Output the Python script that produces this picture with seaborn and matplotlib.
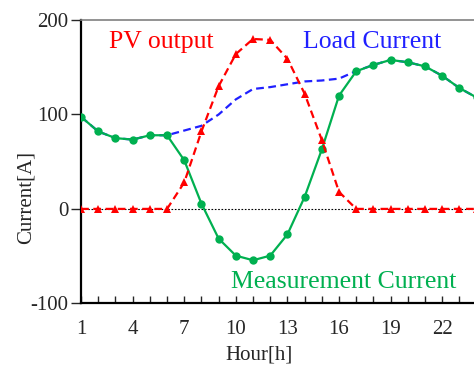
import numpy as np
import pandas as pd
import matplotlib
matplotlib.use("Agg")
import matplotlib.pyplot as plt
import seaborn as sns

# values
hours = list(range(1, 25))
load_current = [97.5, 82, 75, 73.4, 78, 78, 83, 88, 100, 116, 127, 129,
                132, 135, 136, 138, 146, 152.5, 157.8, 155.3, 151, 141, 128, 118]
pv_output = [0, 0, 0, 0, 0, 0, 28, 82, 130, 164, 180, 179,
             159, 122, 73, 18, 0, 0, 0, 0, 0, 0, 0, 0]
measurement_current = [97.5, 82, 75, 73.4, 78, 78, 51.5, 5.6, -31.5, -49.5, -54.4, -49.5,
                       -27, 12.7, 63, 120, 145.8, 152.5, 157.8, 155.3, 151, 141, 128, 118]
x_tick_labels = ["1", "4", "7", "10", "13", "16", "19", "22"]

df = pd.DataFrame({"Hour": hours, "Load": load_current,
                   "PV": pv_output, "Meas": measurement_current})

sns.set_style("ticks")
plt.rcParams['font.family'] = ['Liberation Serif', 'DejaVu Serif']
plt.rcParams['axes.unicode_minus'] = False

green = "#00B050"
red = "#FF0000"
blue = "#2020FF"

fig = plt.figure(figsize=(4.74, 3.65), dpi=100)
ax = fig.add_axes([0.171, 0.169, 0.8345, 0.776])

# dotted zero line
ax.axhline(0, color="black", lw=0.8, ls=(0, (1.5, 1.5)), zorder=1)

sns.lineplot(data=df, x="Hour", y="Load", ax=ax, color=blue, lw=1.6,
             linestyle=(0, (3.5, 2)), zorder=2)
sns.lineplot(data=df, x="Hour", y="Meas", ax=ax, color=green, lw=1.6,
             marker="o", markersize=6, markeredgewidth=0, zorder=3)
sns.lineplot(data=df, x="Hour", y="PV", ax=ax, color=red, lw=1.6,
             linestyle=(0, (3.5, 2)), marker="^", markersize=5.5,
             markeredgewidth=0, zorder=4)

ax.set_xlim(1, 24)
ax.set_ylim(-100, 200)
ax.set_yticks([-100, 0, 100, 200])
ax.set_xticks(range(1, 23, 3))
ax.set_xticklabels(x_tick_labels)
ax.set_xticks(range(1, 25), minor=True)

ax.tick_params(axis="x", which="both", direction="in", length=5, width=1,
               labelsize=15, pad=12)
ax.tick_params(axis="y", direction="out", length=7, width=1, labelsize=15, pad=2)

for s in ["left", "bottom"]:
    ax.spines[s].set_color("black")
    ax.spines[s].set_linewidth(1.6)
ax.spines["top"].set_color("#808080")
ax.spines["top"].set_linewidth(1.2)
ax.spines["right"].set_visible(False)

ax.set_xlabel("Hour[h]", fontsize=15)
ax.set_ylabel("Current[A]", fontsize=15)
ax.xaxis.set_label_coords(0.45, -0.15)
ax.yaxis.set_label_coords(-0.116, 0.372)

ax.text(5.68, 170.6, "PV output", color=red, fontsize=18.5, ha="center", va="baseline")
ax.text(17.9, 170.6, "Load Current", color=blue, fontsize=18.5, ha="center", va="baseline")
ax.text(16.3, -83.7, "Measurement Current", color=green, fontsize=18.5,
        ha="center", va="baseline")

fig.savefig("out.png", dpi=100)
